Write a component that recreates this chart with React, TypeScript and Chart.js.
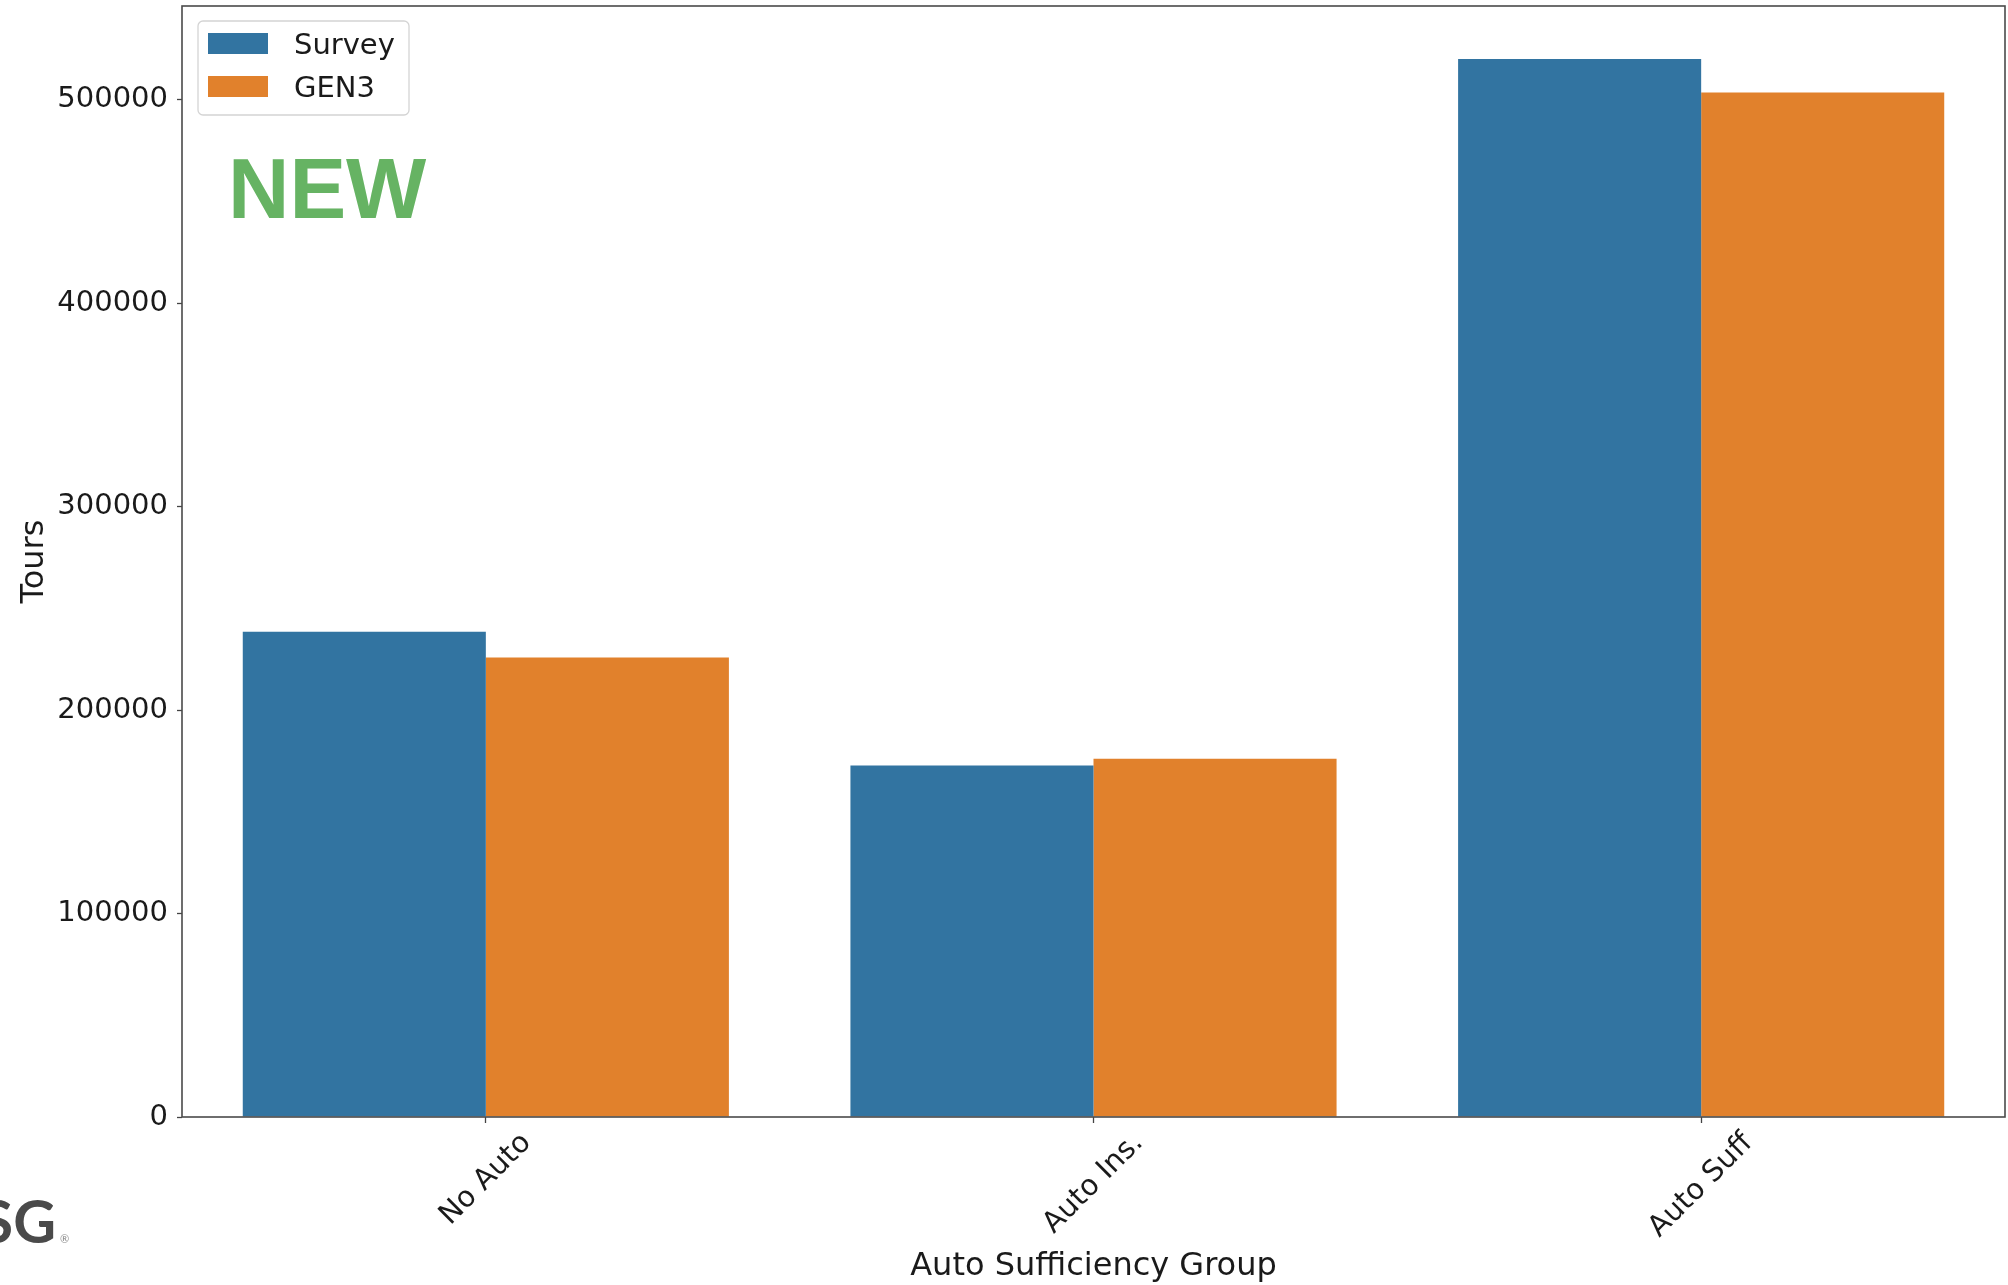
import React, { useEffect, useRef } from "react";
import { Chart, registerables } from "chart.js";

Chart.register(...registerables);

const categories = ["No Auto", "Auto Ins.", "Auto Suff"];
const seriesNames = ["Survey", "GEN3"];
const surveyValues = [238500, 172800, 520000];
const gen3Values = [225800, 176100, 503500];
const yTickValues = [0, 100000, 200000, 300000, 400000, 500000];
const yMax = 546000;
const xTitle = "Auto Sufficiency Group";
const yTitle = "Tours";

const FONT = "'DejaVu Sans', sans-serif";
const BLUE = "#3274a1";
const ORANGE = "#e1812c";
const TEXT = "#1a1a1a";

const overlayPlugin = {
  id: "overlay",
  afterDraw(chart: any) {
    const ctx = chart.ctx as CanvasRenderingContext2D;
    const { left, top, right, bottom } = chart.chartArea;
    ctx.save();

    // frame (spines)
    ctx.strokeStyle = "#4a4a4a";
    ctx.lineWidth = 1.6;
    ctx.strokeRect(left, top, right - left, bottom - top);

    // rotated x tick labels centered below ticks
    const xScale = chart.scales.x;
    const fs = 29;
    ctx.font = `${fs}px ${FONT}`;
    ctx.fillStyle = TEXT;
    ctx.textAlign = "center";
    ctx.textBaseline = "middle";
    categories.forEach((c, i) => {
      const x = xScale.getPixelForTick(i);
      const w = ctx.measureText(c).width;
      const cy = bottom + 14 + (w + 0.73 * fs) / (2 * Math.SQRT2);
      ctx.save();
      ctx.translate(x, cy);
      ctx.rotate(-Math.PI / 4);
      ctx.fillText(c, 0, 0);
      ctx.restore();
    });

    // axis titles
    ctx.font = `32px ${FONT}`;
    ctx.fillStyle = TEXT;
    ctx.textAlign = "center";
    ctx.textBaseline = "middle";
    ctx.fillText(xTitle, (left + right) / 2, 1267);
    ctx.save();
    ctx.translate(35, (top + bottom) / 2);
    ctx.rotate(-Math.PI / 2);
    ctx.fillText(yTitle, 0, 0);
    ctx.restore();

    // legend box
    const lx = 198, ly = 21, lw = 211, lh = 94;
    ctx.beginPath();
    (ctx as any).roundRect(lx, ly, lw, lh, 5);
    ctx.fillStyle = "rgba(255,255,255,0.8)";
    ctx.fill();
    ctx.strokeStyle = "#d4d4d4";
    ctx.lineWidth = 1.3;
    ctx.stroke();
    chart.data.datasets.forEach((ds: any, i: number) => {
      const py = 33 + i * 43;
      ctx.fillStyle = ds.backgroundColor;
      ctx.fillRect(208, py, 60, 21);
      ctx.fillStyle = TEXT;
      ctx.font = `29px ${FONT}`;
      ctx.textAlign = "left";
      ctx.textBaseline = "middle";
      ctx.fillText(ds.label, 294, py + 13);
    });

    // NEW stamp
    ctx.fillStyle = "#66b363";
    ctx.font = "bold 85px 'Liberation Sans', Arial, sans-serif";
    ctx.textAlign = "left";
    ctx.textBaseline = "alphabetic";
    ctx.fillText("NEW", 228, 218);

    // logo fragment
    ctx.fillStyle = "#4a4a4a";
    ctx.font = "bold 59px Lato, sans-serif";
    ctx.textAlign = "right";
    ctx.fillText("SG", 56, 1243);
    ctx.fillStyle = "#888";
    ctx.font = "11px Lato, sans-serif";
    ctx.textAlign = "left";
    ctx.fillText("®", 60, 1243);

    ctx.restore();
  },
};

export default function App() {
  const ref = useRef<HTMLCanvasElement | null>(null);

  useEffect(() => {
    if (!ref.current) return;
    const chart = new Chart(ref.current, {
      type: "bar",
      data: {
        labels: categories,
        datasets: [
          { label: seriesNames[0], data: surveyValues, backgroundColor: BLUE, borderWidth: 0 },
          { label: seriesNames[1], data: gen3Values, backgroundColor: ORANGE, borderWidth: 0 },
        ],
      },
      options: {
        responsive: false,
        animation: false,
        devicePixelRatio: 1,
        layout: { padding: { top: 6, right: 3, left: 0, bottom: 0 } },
        datasets: { bar: { categoryPercentage: 0.8, barPercentage: 1.0 } },
        plugins: { legend: { display: false }, tooltip: { enabled: false } },
        scales: {
          x: {
            afterFit: (s: any) => {
              s.height = 168;
              s.paddingLeft = 0;
              s.paddingRight = 0;
            },
            grid: { display: true, drawOnChartArea: false, drawTicks: true, tickLength: 6, offset: false, color: "#444", tickColor: "#444", tickWidth: 1.3 },
            border: { display: false },
            ticks: { display: false },
            title: { display: false },
          },
          y: {
            min: 0,
            max: yMax,
            afterFit: (s: any) => {
              s.width = 182;
              s.paddingTop = 0;
              s.paddingBottom = 0;
            },
            afterBuildTicks: (s: any) => { s.ticks = yTickValues.map((v) => ({ value: v })); },
            grid: { display: true, drawOnChartArea: false, drawTicks: true, tickLength: 5, color: "#444", tickColor: "#444", tickWidth: 1.3 },
            border: { display: false },
            ticks: {
              padding: 9,
              color: TEXT,
              font: { family: FONT, size: 29 },
              callback: (v: any) => String(v),
            },
            title: { display: false },
          },
        },
      },
      plugins: [overlayPlugin],
    } as any);
    return () => chart.destroy();
  }, []);

  return (
    <div style={{ position: "absolute", left: 0, top: 0, width: 2008, height: 1285, background: "#fff" }}>
      <canvas ref={ref} width={2008} height={1285} style={{ display: "block" }} />
    </div>
  );
}
